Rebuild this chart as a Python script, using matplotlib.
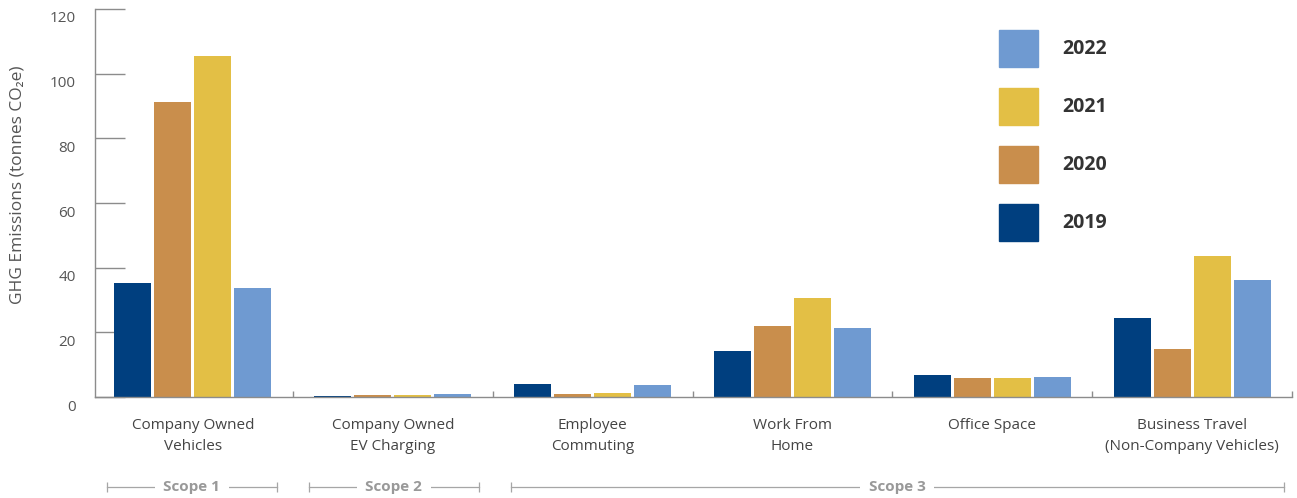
import numpy as np
import matplotlib.pyplot as plt
from matplotlib.patches import Rectangle
from matplotlib.transforms import ScaledTranslation, blended_transform_factory

plt.rcParams['font.family'] = ['Open Sans', 'DejaVu Sans']

categories = ["Company Owned\nVehicles", "Company Owned\nEV Charging", "Employee\nCommuting",
              "Work From\nHome", "Office Space", "Business Travel\n(Non-Company Vehicles)"]
years = ["2019", "2020", "2021", "2022"]
v2019 = [35.3, 0.2, 4.0, 14.2, 6.8, 24.4]
v2020 = [91.2, 0.5, 0.8, 22.0, 5.9, 14.8]
v2021 = [105.5, 0.7, 1.2, 30.6, 5.9, 43.6]
v2022 = [33.7, 1.0, 3.7, 21.3, 6.2, 36.2]
colors = ["#003f7f", "#c98e4c", "#e3bf45", "#6f9ad1"]
scopes = ["Scope 1", "Scope 2", "Scope 3"]
scope_spans = [(-0.43, 0.42), (0.58, 1.43), (1.59, 5.46)]

fig = plt.figure(figsize=(12.97, 4.98), dpi=100)
ax = fig.add_axes([95 / 1297, 1 - 397 / 498, (1292 - 95) / 1297, 388 / 498])

x = np.arange(len(categories))
w = 0.185
series = [v2019, v2020, v2021, v2022]
for i, vals in enumerate(series):
    ax.bar(x + (i - 1.5) * 0.2, vals, width=w, color=colors[i], label=years[i], zorder=2)

ax.set_xlim(-0.49, 5.5)
ax.set_ylim(0, 120)
ax.set_yticks(np.arange(0, 121, 20))
for s in ["top", "right"]:
    ax.spines[s].set_visible(False)
for s in ["left", "bottom"]:
    ax.spines[s].set_color("#8c8c8c")
    ax.spines[s].set_linewidth(1.0)

ax.tick_params(axis="y", direction="in", length=21.6, width=1.0, color="#8c8c8c",
               labelsize=11, labelcolor="#555555", pad=14)
for lab in ax.get_yticklabels():
    lab.set_transform(lab.get_transform() + ScaledTranslation(0, -8 / 100, fig.dpi_scale_trans))

ax.set_xticks(x)
ax.set_xticklabels(categories, fontsize=11, color="#444444", linespacing=1.55)
ax.tick_params(axis="x", which="major", length=0, pad=15)
ax.set_xticks(np.arange(0.5, 6, 1), minor=True)
ax.tick_params(axis="x", which="minor", direction="in", length=4, width=1.0, color="#8c8c8c")

ax.set_ylabel("GHG Emissions (tonnes CO₂e)", fontsize=12.5, color="#555555")
ax.yaxis.set_label_coords(-0.058, 0.546)

# scope brackets under the categories
tr = blended_transform_factory(ax.transData, ax.transAxes)
for name, (a, b) in zip(scopes, scope_spans):
    ax.plot([a, b], [-0.232, -0.232], color="#a6a6a6", lw=0.9, transform=tr, clip_on=False)
    ax.plot([a, b], [-0.232, -0.232], ls="none", marker="|", ms=7, mew=0.9, color="#a6a6a6",
            transform=tr, clip_on=False)
    ax.text((a + b) / 2, -0.232, name, transform=tr, ha="center", va="center", fontsize=11,
            fontweight="bold", color="#999999",
            bbox=dict(facecolor="white", edgecolor="none", pad=6))

handles = [Rectangle((0, 0), 1, 1, color=c) for c in colors][::-1]
leg = ax.legend(handles, years[::-1], loc="upper left", bbox_to_anchor=(999 / 1297, 1 - 30 / 498),
                bbox_transform=fig.transFigure, frameon=False, borderpad=0, borderaxespad=0,
                prop={"size": 14, "weight": "bold"}, handlelength=2.0, handleheight=2.55,
                handletextpad=1.23, labelspacing=1.08)
for t in leg.get_texts():
    t.set_color("#333333")

fig.savefig("out.png", dpi=100)
